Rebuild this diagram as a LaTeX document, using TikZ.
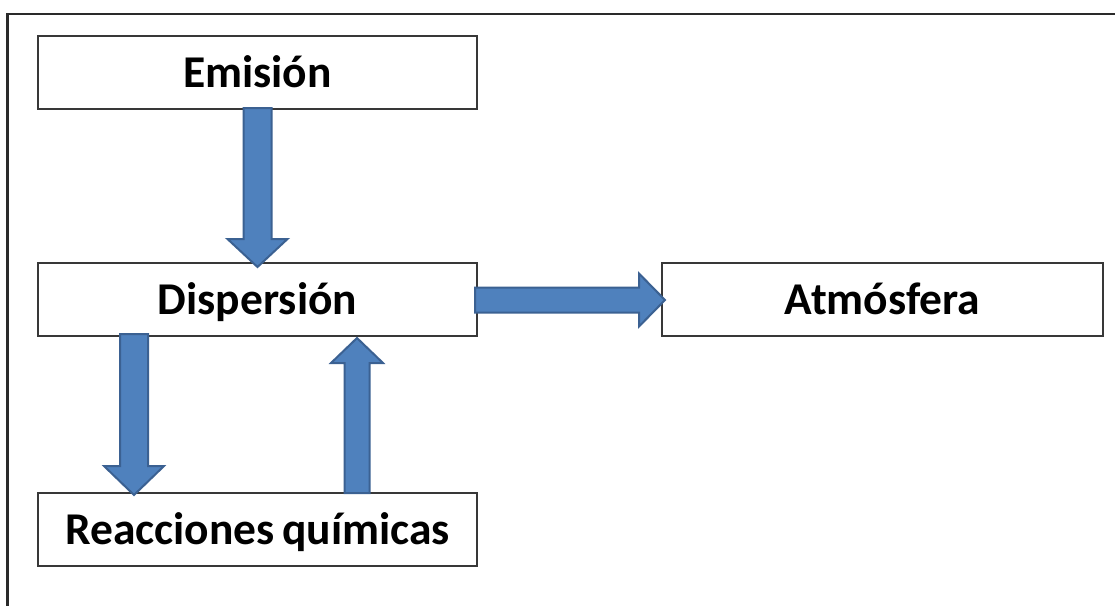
\documentclass[tikz,border=0pt]{standalone}
\usepackage{fontspec}
\setmainfont{Carlito}
\usetikzlibrary{calc}

\definecolor{arrowfill}{HTML}{4F81BD}
\definecolor{arrowline}{HTML}{3B6192}
\definecolor{boxline}{HTML}{383838}
\definecolor{frameline}{HTML}{2A2A2A}

% Block arrow from #1 to #2: half shaft width #3, half head width #4, head length #5
\newcommand{\fatarrow}[5]{%
  \coordinate (fa-s) at (#1);
  \coordinate (fa-e) at (#2);
  \coordinate (fa-h) at ($(fa-e)!#5!(fa-s)$);
  \filldraw[blockarrow]
    ($(fa-s)!#3!90:(fa-e)$) -- ($(fa-h)!#3!90:(fa-e)$) -- ($(fa-h)!#4!90:(fa-e)$)
    -- (fa-e)
    -- ($(fa-h)!#4!-90:(fa-e)$) -- ($(fa-h)!#3!-90:(fa-e)$) -- ($(fa-s)!#3!-90:(fa-e)$)
    -- cycle;}

\tikzset{
  stage/.style={draw=boxline, line width=2pt, fill=white,
    minimum width=439pt, minimum height=73pt, inner sep=0pt,
    font=\bfseries\fontsize{45.5}{54}\selectfont,
    text height=29pt, text depth=0pt},
  blockarrow/.style={fill=arrowfill, draw=arrowline, line width=2pt, line join=miter},
}

\begin{document}
\begin{tikzpicture}[x=1pt,y=-1pt]
  \useasboundingbox (0,0) rectangle (1115,606);
  \fill[white] (0,0) rectangle (1115,606);

  % outer frame (top and left edges)
  \draw[frameline, line width=2.5pt] (1115,14) -- (7.5,14) -- (7.5,606);

  % stages
  \node[stage] (em)  at (257.5,72.5)  {Emisión};
  \node[stage] (dis) at (257.5,299.5) {Dispersión};
  \node[stage] (rq)  at (257.5,529.5) {Reacciones\hspace{-0.06em} químicas};
  \node[stage, minimum width=441pt] (atm) at (882.5,299.5) {Atmósfera};

  % flows
  \fatarrow{$(em.south)+(0,-2)$}{$(dis.north)+(0,5)$}{14pt}{30pt}{28pt}
  \fatarrow{$(dis.south)+(-123.5,-3)$}{$(rq.north)+(-123.5,3)$}{14pt}{30pt}{29pt}
  \fatarrow{$(rq.north)+(99.5,1)$}{$(dis.south)+(99.5,1)$}{12.5pt}{26pt}{25pt}
  \fatarrow{$(dis.east)+(-3,0.5)$}{$(atm.west)+(4,0.5)$}{12.5pt}{26.5pt}{26pt}
\end{tikzpicture}
\end{document}
